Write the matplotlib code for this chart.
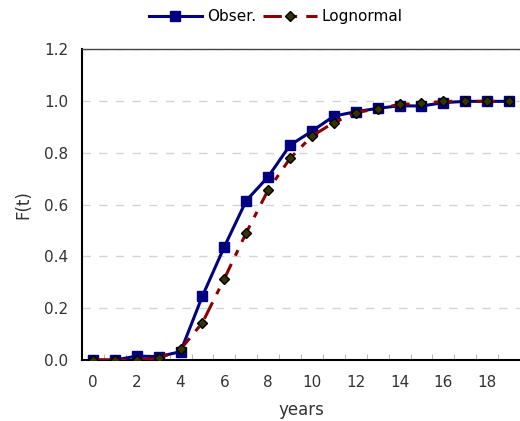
import matplotlib
matplotlib.use('Agg')
import matplotlib.pyplot as plt
import numpy as np

years = list(range(20))
obser = [0.0, 0.0, 0.015, 0.013, 0.032, 0.247, 0.437, 0.615, 0.707, 0.829,
         0.883, 0.941, 0.958, 0.971, 0.981, 0.980, 0.993, 0.998, 0.998, 0.998]
lognormal = [0.0, 0.0, 0.0, 0.006, 0.041, 0.144, 0.314, 0.491, 0.656, 0.778,
             0.864, 0.916, 0.954, 0.970, 0.986, 0.990, 0.998, 0.998, 0.998, 0.998]
xticks = list(range(0, 20, 2))
yticks = [0.0, 0.2, 0.4, 0.6, 0.8, 1.0, 1.2]

plt.rcParams['font.family'] = ['DejaVu Sans']
fig = plt.figure(figsize=(5.2, 4.21), dpi=100)
ax = fig.add_axes([0.1577, 0.1449, 0.8423, 0.7387])

l1, = ax.plot(years, obser, color='#000080', lw=2.2, marker='s', ms=7,
              mfc='#000080', mec='#000080', zorder=3, label='Obser.')
l2, = ax.plot(years, lognormal, color='#8b0000', lw=2.2, dashes=(6, 3, 2, 3),
              marker='D', ms=5, mfc='#333300', mec='black', mew=1, zorder=4,
              label='Lognormal')

ax.set_xlim(-0.5, 19.5)
ax.set_ylim(0, 1.2)
ax.set_xticks(xticks)
ax.set_xticks(np.arange(-0.5, 20, 1), minor=True)
ax.set_yticks(yticks)
ax.set_yticklabels(['%.1f' % v for v in yticks])
ax.tick_params(axis='x', which='major', length=0, pad=11, labelsize=11, colors='#333333')
ax.tick_params(axis='x', which='minor', direction='in', length=4, color='#aaaaaa')
ax.tick_params(axis='y', length=0, pad=10, labelsize=11, colors='#333333')
ax.yaxis.grid(True, color='#d4d4d4', lw=1, dashes=(6, 6))
ax.set_axisbelow(True)

ax.spines['right'].set_visible(False)
ax.spines['top'].set_color('#444444')
ax.spines['top'].set_linewidth(1)
ax.spines['left'].set_linewidth(1.5)
ax.spines['bottom'].set_linewidth(1.5)

ax.set_xlabel('years', fontsize=12, color='#333333', labelpad=8)
ax.set_ylabel('F(t)', fontsize=12, color='#333333', labelpad=8)

fig.legend(handles=[l1, l2], loc='center', bbox_to_anchor=(0.53, 0.96), ncol=2,
           frameon=False, fontsize=11, handlelength=3.5, columnspacing=0.5,
           handletextpad=0.3)

fig.savefig('out.png', dpi=100)
